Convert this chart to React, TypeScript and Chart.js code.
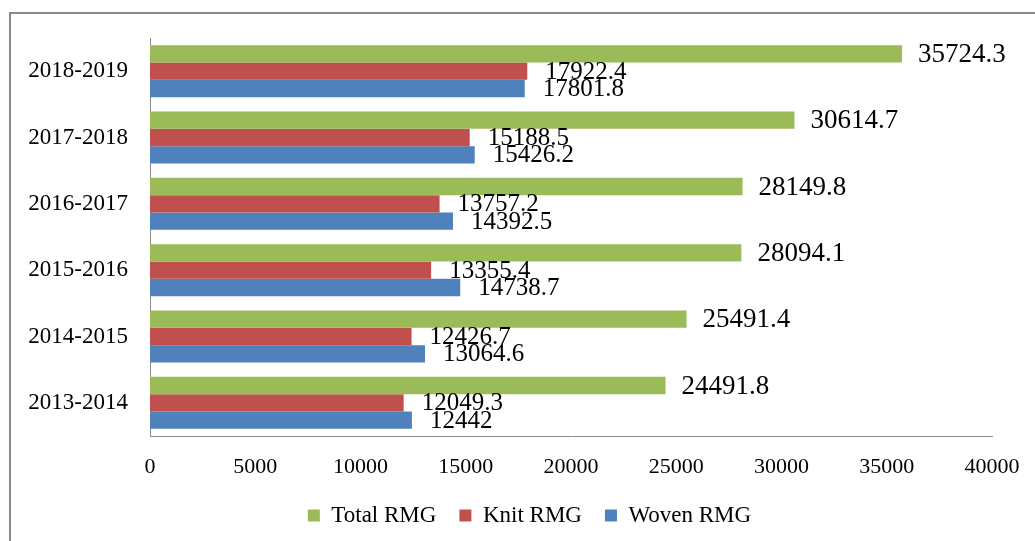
import React, { useEffect, useRef } from "react";
import { Chart, registerables } from "chart.js";

Chart.register(...registerables);

const categories = ["2018-2019", "2017-2018", "2016-2017", "2015-2016", "2014-2015", "2013-2014"];
const totalRMG = [35724.3, 30614.7, 28149.8, 28094.1, 25491.4, 24491.8];
const knitRMG = [17922.4, 15188.5, 13757.2, 13355.4, 12426.7, 12049.3];
const wovenRMG = [17801.8, 15426.2, 14392.5, 14738.7, 13064.6, 12442];
const seriesNames = ["Total RMG", "Knit RMG", "Woven RMG"];
const seriesColors = ["#9BBB59", "#C0504D", "#4F81BD"];

const FONT = "'Liberation Serif', 'Times New Roman', serif";

const framePlugin = {
  id: "frame",
  beforeDraw(chart: any) {
    const ctx = chart.ctx;
    ctx.save();
    ctx.fillStyle = "#ffffff";
    ctx.fillRect(0, 0, chart.width, chart.height);
    ctx.strokeStyle = "#8a8a8a";
    ctx.lineWidth = 2;
    ctx.beginPath();
    ctx.moveTo(10, chart.height);
    ctx.lineTo(10, 13);
    ctx.lineTo(chart.width, 13);
    ctx.stroke();
    ctx.restore();
  },
};

const valueLabelPlugin = {
  id: "valueLabels",
  afterDatasetsDraw(chart: any) {
    const ctx = chart.ctx;
    ctx.save();
    ctx.fillStyle = "#000000";
    ctx.textAlign = "left";
    ctx.textBaseline = "middle";
    chart.data.datasets.forEach((ds: any, di: number) => {
      const meta = chart.getDatasetMeta(di);
      ctx.font = (di === 0 ? "27px " : "25px ") + FONT;
      const off = di === 0 ? 16 : 18;
      meta.data.forEach((bar: any, i: number) => {
        ctx.fillText(String(ds.data[i]), bar.x + off, bar.y + 1);
      });
    });
    ctx.restore();
  },
};

export default function App() {
  const ref = useRef<HTMLCanvasElement | null>(null);
  useEffect(() => {
    if (!ref.current) return;
    const chart = new Chart(ref.current, {
      type: "bar",
      data: {
        labels: categories,
        datasets: [totalRMG, knitRMG, wovenRMG].map((d, i) => ({
          label: seriesNames[i],
          data: d,
          backgroundColor: seriesColors[i],
          borderWidth: 0,
          categoryPercentage: 0.785,
          barPercentage: 1,
        })),
      },
      options: {
        indexAxis: "y",
        animation: false,
        responsive: false,
        layout: { padding: { left: 24, right: 0, top: 38, bottom: 4 } },
        scales: {
          x: {
            min: 0,
            max: 40000,
            ticks: {
              stepSize: 5000,
              color: "#000",
              font: { family: FONT, size: 22 },
              padding: 18,
              maxRotation: 0,
              callback: (v: any) => String(v),
            },
            grid: { display: false, drawTicks: false },
            border: { display: true, color: "#8c8c8c", width: 1 },
            afterFit: (s: any) => { s.height = 45; s.paddingRight = 0; s.paddingLeft = 0; },
          },
          y: {
            ticks: { color: "#000", font: { family: FONT, size: 23 }, padding: 22 },
            grid: { display: false, drawTicks: false },
            border: { display: true, color: "#8c8c8c", width: 1 },
            afterFit: (s: any) => { s.width = 126; },
          },
          y2: {
            type: "category",
            position: "right",
            ticks: { display: false },
            grid: { display: false, drawTicks: false },
            border: { display: false },
            afterFit: (s: any) => { s.width = 43; },
          },
        },
        plugins: {
          legend: {
            position: "bottom",
            labels: {
              boxWidth: 12,
              boxHeight: 12,
              padding: 23,
              color: "#000",
              font: { family: FONT, size: 23 },
            },
          },
          tooltip: { enabled: false },
        },
      },
      plugins: [framePlugin, valueLabelPlugin],
    } as any);
    return () => chart.destroy();
  }, []);
  return (
    <div style={{ position: "fixed", left: 0, top: 0, width: 1035, height: 541, background: "#fff" }}>
      <canvas ref={ref} width={1035} height={541} style={{ display: "block" }} />
    </div>
  );
}
